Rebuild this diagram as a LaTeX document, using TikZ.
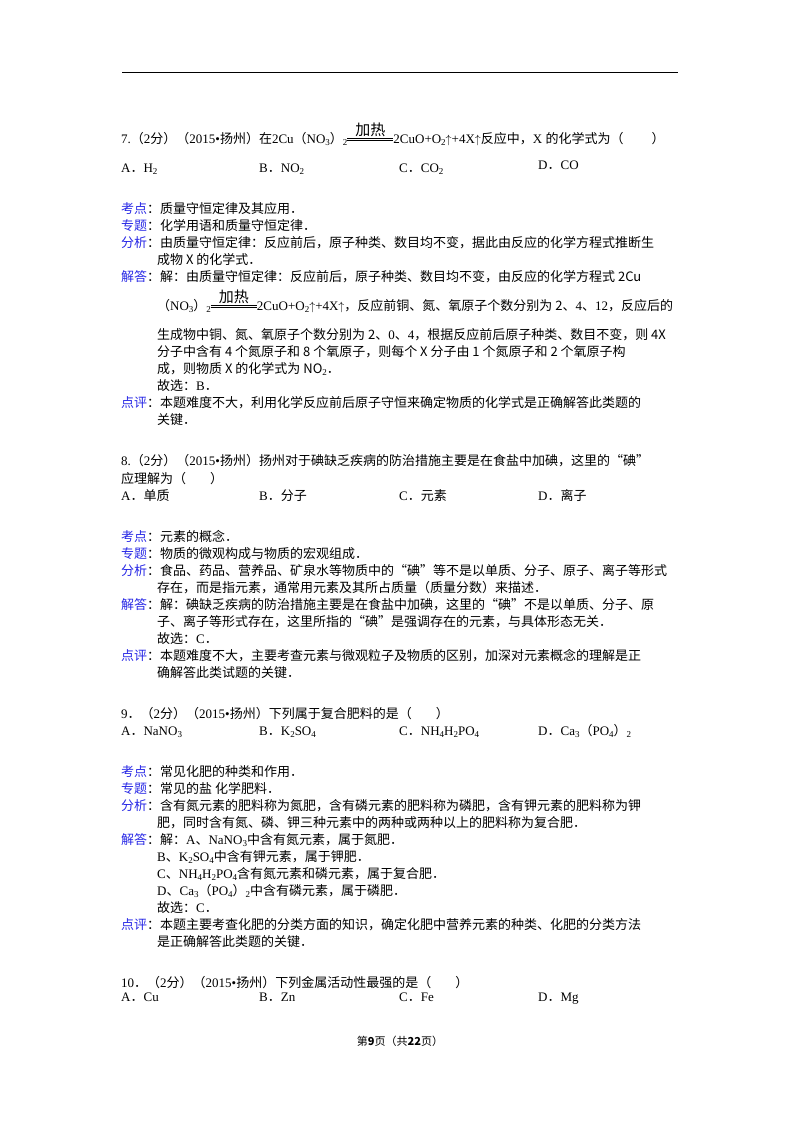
\documentclass[tikz,border=0pt]{standalone}
\usepackage{fontspec}
\setmainfont{Liberation Serif}
\newfontfamily\cjk{Noto Sans CJK SC}
\XeTeXinterchartokenstate=1
\newXeTeXintercharclass\CJKcls
\count255="4E00 \loop \XeTeXcharclass\count255=\CJKcls \advance\count255 1 \ifnum\count255<"A000 \repeat
\count255="3000 \loop \XeTeXcharclass\count255=\CJKcls \advance\count255 1 \ifnum\count255<"3040 \repeat
\count255="FF00 \loop \XeTeXcharclass\count255=\CJKcls \advance\count255 1 \ifnum\count255<"FFF0 \repeat
\XeTeXcharclass"201C=\CJKcls \XeTeXcharclass"201D=\CJKcls
\XeTeXinterchartoks 0 \CJKcls = {\cjk}
\XeTeXinterchartoks 4095 \CJKcls = {\cjk}
\XeTeXinterchartoks \CJKcls 0 = {\rmfamily}
\newcommand\sbs[1]{\rmfamily\raisebox{-0.35ex}{\rmfamily\fontsize{9}{9}\selectfont #1}}
\newcommand\heat{\raisebox{2.5pt}{\vbox{\hbox to 46pt{\hss\fontsize{15}{15}\selectfont 加热\hss}\kern1.5pt\hrule width46pt\kern1.3pt\hrule width46pt}}\rmfamily}
\newcommand\up{$\uparrow$}
\definecolor{lab}{RGB}{40,40,230}
\newcommand\lb[1]{{\color{lab}#1}：}
\begin{document}
\begin{tikzpicture}[x=1pt,y=-1pt,t/.style={anchor=base west,inner sep=0,font=\fontsize{13}{16}\selectfont}]
\useasboundingbox (0,0) rectangle (800,1132);
\fill[white] (0,0) rectangle (800,1132);
\coordinate (r1) at (122,72); \coordinate (r2) at (678,72);
\draw[line width=0.8pt] (r1) -- (r2);
% Q7
\node[t] (q7) at (121,143) {7.（2分）（2015•扬州）在2Cu（NO\sbs{3}）\sbs{2}\heat 2CuO+O\sbs{2}\up+4X\up 反应中，X 的化学式为（\hspace{28pt}）};
\node[t] (a7) at (121,172) {A．H\sbs{2}};
\node[t] (b7) at (259,172) {B．NO\sbs{2}};
\node[t] (c7) at (399,172) {C．CO\sbs{2}};
\node[t] (d7) at (538,169) {D．CO};
\node[t] (k7) at (121,213) {\lb{考点}质量守恒定律及其应用．};
\node[t] (z7) at (121,230) {\lb{专题}化学用语和质量守恒定律．};
\node[t] (f7) at (121,247) {\lb{分析}由质量守恒定律：反应前后，原子种类、数目均不变，据此由反应的化学方程式推断生};
\node[t] (f7b) at (157,264) {成物 X 的化学式．};
\node[t] (j7) at (121,281) {\lb{解答}解：由质量守恒定律：反应前后，原子种类、数目均不变，由反应的化学方程式 2Cu};
\node[t] (j7b) at (157,310) {（NO\sbs{3}）\sbs{2}\heat 2CuO+O\sbs{2}\up+4X\up，反应前铜、氮、氧原子个数分别为 2、4、12，反应后的};
\node[t] (j7c) at (157,339) {生成物中铜、氮、氧原子个数分别为 2、0、4，根据反应前后原子种类、数目不变，则 4X};
\node[t] (j7d) at (157,356) {分子中含有 4 个氮原子和 8 个氧原子，则每个 X 分子由 1 个氮原子和 2 个氧原子构};
\node[t] (j7e) at (157,373) {成，则物质 X 的化学式为 NO\sbs{2}．};
\node[t] (j7f) at (157,390) {故选：B．};
\node[t] (p7) at (121,407) {\lb{点评}本题难度不大，利用化学反应前后原子守恒来确定物质的化学式是正确解答此类题的};
\node[t] (p7b) at (157,424) {关键．};
% Q8
\node[t] (q8) at (121,465) {8.（2分）（2015•扬州）扬州对于碘缺乏疾病的防治措施主要是在食盐中加碘，这里的“碘”};
\node[t] (q8b) at (121,483) {应理解为（\hspace{24pt}）};
\node[t] (a8) at (121,500) {A．单质};
\node[t] (b8) at (259,500) {B．分子};
\node[t] (c8) at (399,500) {C．元素};
\node[t] (d8) at (538,500) {D．离子};
\node[t] (k8) at (121,541) {\lb{考点}元素的概念．};
\node[t] (z8) at (121,558) {\lb{专题}物质的微观构成与物质的宏观组成．};
\node[t] (f8) at (121,575) {\lb{分析}食品、药品、营养品、矿泉水等物质中的“碘”等不是以单质、分子、原子、离子等形式};
\node[t] (f8b) at (157,592) {存在，而是指元素，通常用元素及其所占质量（质量分数）来描述．};
\node[t] (j8) at (121,609) {\lb{解答}解：碘缺乏疾病的防治措施主要是在食盐中加碘，这里的“碘”不是以单质、分子、原};
\node[t] (j8b) at (157,626) {子、离子等形式存在，这里所指的“碘”是强调存在的元素，与具体形态无关．};
\node[t] (j8c) at (157,643) {故选：C．};
\node[t] (p8) at (121,660) {\lb{点评}本题难度不大，主要考查元素与微观粒子及物质的区别，加深对元素概念的理解是正};
\node[t] (p8b) at (157,677) {确解答此类试题的关键．};
% Q9
\node[t] (q9) at (121,718) {9．（2分）（2015•扬州）下列属于复合肥料的是（\hspace{24pt}）};
\node[t] (a9) at (121,735) {A．NaNO\sbs{3}};
\node[t] (b9) at (259,735) {B．K\sbs{2}SO\sbs{4}};
\node[t] (c9) at (399,735) {C．NH\sbs{4}H\sbs{2}PO\sbs{4}};
\node[t] (d9) at (538,735) {D．Ca\sbs{3}（PO\sbs{4}）\sbs{2}};
\node[t] (k9) at (121,776) {\lb{考点}常见化肥的种类和作用．};
\node[t] (z9) at (121,793) {\lb{专题}常见的盐\ 化学肥料．};
\node[t] (f9) at (121,810) {\lb{分析}含有氮元素的肥料称为氮肥，含有磷元素的肥料称为磷肥，含有钾元素的肥料称为钾};
\node[t] (f9b) at (157,827) {肥，同时含有氮、磷、钾三种元素中的两种或两种以上的肥料称为复合肥．};
\node[t] (j9) at (121,844) {\lb{解答}解：A、NaNO\sbs{3}中含有氮元素，属于氮肥．};
\node[t] (j9b) at (157,861) {B、K\sbs{2}SO\sbs{4}中含有钾元素，属于钾肥．};
\node[t] (j9c) at (157,878) {C、NH\sbs{4}H\sbs{2}PO\sbs{4}含有氮元素和磷元素，属于复合肥．};
\node[t] (j9d) at (157,895) {D、Ca\sbs{3}（PO\sbs{4}）\sbs{2}中含有磷元素，属于磷肥．};
\node[t] (j9e) at (157,912) {故选：C．};
\node[t] (p9) at (121,929) {\lb{点评}本题主要考查化肥的分类方面的知识，确定化肥中营养元素的种类、化肥的分类方法};
\node[t] (p9b) at (157,946) {是正确解答此类题的关键．};
% Q10
\node[t] (q10) at (121,987) {10．（2分）（2015•扬州）下列金属活动性最强的是（\hspace{24pt}）};
\node[t] (a10) at (121,1001) {A．Cu};
\node[t] (b10) at (259,1001) {B．Zn};
\node[t] (c10) at (399,1001) {C．Fe};
\node[t] (d10) at (538,1001) {D．Mg};
\node[anchor=base,inner sep=0,font=\fontsize{11}{13}\selectfont] (ft) at (400,1045) {第\textbf{9}页（共\textbf{22}页）};
\end{tikzpicture}
\end{document}
